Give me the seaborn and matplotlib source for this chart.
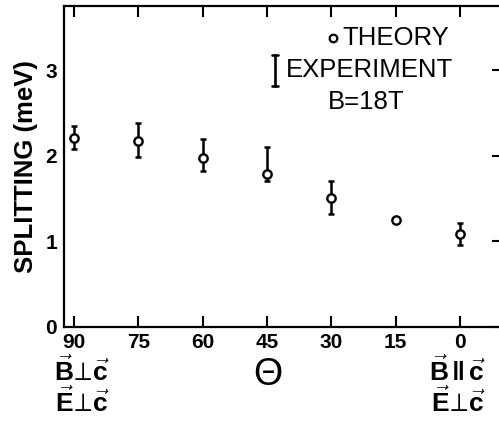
import matplotlib
matplotlib.use("Agg")
import matplotlib.pyplot as plt
import seaborn as sns
import pandas as pd
import numpy as np

# ---- data ----
theta = [90, 75, 60, 45, 30, 15, 0]
theory = [2.21, 2.17, 1.97, 1.79, 1.51, 1.25, 1.09]
exp_theta = [90, 75, 60, 45, 30, 0]
exp_low = [2.08, 1.99, 1.82, 1.70, 1.32, 0.96]
exp_high = [2.35, 2.38, 2.20, 2.10, 1.70, 1.22]
exp_center = [2.21, 2.17, 1.97, 1.79, 1.51, 1.09]
xticks = [90, 75, 60, 45, 30, 15, 0]
yticks = [0, 1, 2, 3]

sns.set_style("white")
FONT = ["Liberation Sans", "DejaVu Sans"]
plt.rcParams["font.family"] = FONT
plt.rcParams["text.color"] = "black"
plt.rcParams["axes.labelcolor"] = "black"
plt.rcParams["xtick.color"] = "black"
plt.rcParams["ytick.color"] = "black"
plt.rcParams["mathtext.fontset"] = "custom"
plt.rcParams["mathtext.rm"] = "Liberation Sans:bold"
plt.rcParams["mathtext.it"] = "Liberation Sans:bold"
plt.rcParams["mathtext.bf"] = "Liberation Sans:bold"

fig = plt.figure(figsize=(4.99, 4.21), dpi=100)
ax = fig.add_axes([64 / 499, 94 / 421, 1 - 64 / 499, 321 / 421])

# experiment error bars
lo = np.array(exp_center) - np.array(exp_low)
hi = np.array(exp_high) - np.array(exp_center)
ax.errorbar(exp_theta, exp_center, yerr=[lo, hi], fmt="none", ecolor="black",
            elinewidth=1.8, capsize=2.5, capthick=1.8, zorder=2)

# theory circles
df = pd.DataFrame({"theta": theta, "theory": theory})
sns.scatterplot(data=df, x="theta", y="theory", ax=ax, marker="o", s=36,
                facecolor="white", edgecolor="black", linewidth=1.7, zorder=3)

ax.set_xlim(92.3, -9.1)
ax.set_ylim(0, 3.75)
ax.set_xticks(xticks)
ax.set_xticklabels([str(t) for t in xticks], fontsize=15, fontweight="bold")
ax.set_yticks(yticks)
ax.set_yticklabels([str(t) for t in yticks], fontsize=15, fontweight="bold")
ax.tick_params(axis="x", direction="in", length=8, width=1.5, top=True,
               bottom=True, pad=4)
ax.tick_params(axis="y", direction="in", length=5, width=1.5, left=False,
               right=True, pad=5)
for s in ["left", "bottom", "top"]:
    ax.spines[s].set_linewidth(1.6)
    ax.spines[s].set_color("black")
ax.spines["right"].set_visible(False)

ax.set_xlabel("")
ax.set_ylabel("SPLITTING (meV)", fontsize=18.5, fontweight="bold", labelpad=5)


def px(x, y):
    return (x / 499, 1 - y / 421)


# legend
fig.text(*px(342, 38), "THEORY", fontsize=18.5, ha="left", va="center")
fig.text(*px(286, 70), "EXPERIMENT", fontsize=18.5, ha="left", va="center")
fig.text(*px(328, 102), "B=18T", fontsize=18.5, ha="left", va="center")
fig.lines.append(plt.Line2D([333 / 499], [1 - 38 / 421], transform=fig.transFigure,
                            marker="o", ms=5.5, mfc="white", mec="black", mew=1.6, ls="none"))
fig.lines.append(plt.Line2D([275 / 499, 275 / 499], [1 - 55 / 421, 1 - 86 / 421],
                            transform=fig.transFigure, color="black", lw=1.9))
for yy in (55, 86):
    fig.lines.append(plt.Line2D([272 / 499, 278 / 499], [1 - yy / 421] * 2,
                                transform=fig.transFigure, color="black", lw=1.9))

# bottom labels
fig.text(*px(82, 371), r"$\vec{\mathrm{B}}\!\perp\!\vec{\mathrm{c}}$", fontsize=19, ha="center", va="center")
fig.text(*px(82, 402), r"$\vec{\mathrm{E}}\!\perp\!\vec{\mathrm{c}}$", fontsize=19, ha="center", va="center")
fig.text(*px(458, 371), r"$\vec{\mathrm{B}}\,\Vert\,\vec{\mathrm{c}}$", fontsize=19, ha="center", va="center")
fig.text(*px(458, 402), r"$\vec{\mathrm{E}}\!\perp\!\vec{\mathrm{c}}$", fontsize=19, ha="center", va="center")
fig.text(*px(268, 375), "Θ", fontsize=27, ha="center", va="center")

fig.savefig("out.png", dpi=100)
